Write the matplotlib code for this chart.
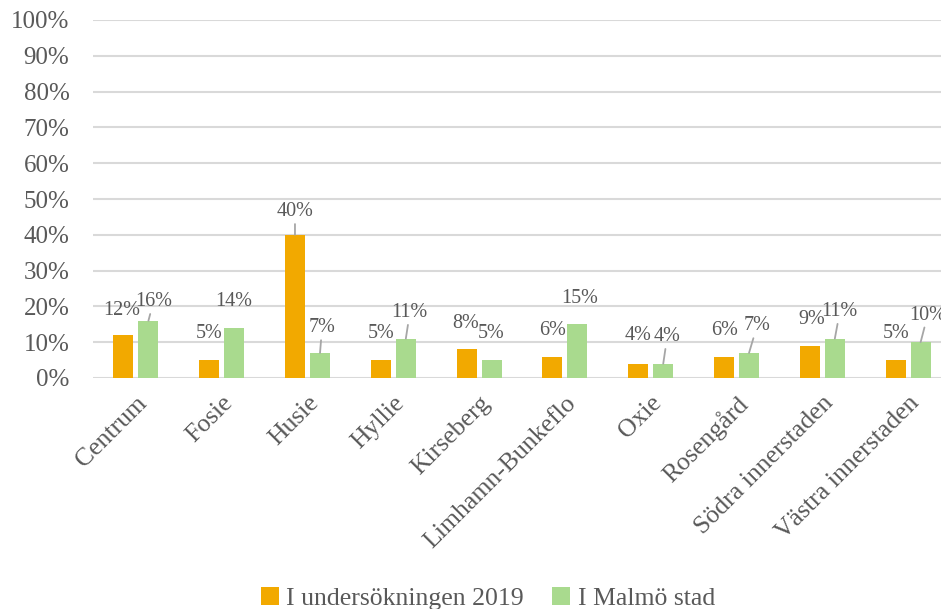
import matplotlib.pyplot as plt
import numpy as np

plt.rcParams['font.family'] = ['Liberation Serif', 'DejaVu Serif']

categories = ['Centrum', 'Fosie', 'Husie', 'Hyllie', 'Kirseberg', 'Limhamn-Bunkeflo',
              'Oxie', 'Rosengård', 'Södra innerstaden', 'Västra innerstaden']
survey = [12, 5, 40, 5, 8, 6, 4, 6, 9, 5]     # I undersökningen 2019
malmo = [16, 14, 7, 11, 5, 15, 4, 7, 11, 10]  # I Malmö stad

# label placement (pixel offsets from bar top) and leader lines
survey_off = [(-2, 25), (0, 27), (0, 23), (0, 27), (-1, 26), (0, 26), (0, 28), (1, 26), (2, 26), (1, 27)]
survey_lead = [False, False, True, False, False, False, False, False, False, False]
malmo_off = [(5, 19), (-1, 26), (2, 25), (4, 26), (-1, 27), (2, 26), (4, 27), (8, 27), (5, 27), (7, 27)]
malmo_lead = [True, False, True, True, False, False, True, True, True, True]

orange = '#F2A900'
green = '#A9DA8E'
textc = '#595959'

fig = plt.figure(figsize=(9.41, 6.09), dpi=100)
ax = fig.add_axes([93/941, 231/609, 858/941, 358/609])

x = np.arange(len(categories))
w = 0.233
sh = 0.146
ax.bar(x - sh, np.array(survey) / 100, w, color=orange, label='I undersökningen 2019', zorder=3)
ax.bar(x + sh, np.array(malmo) / 100, w, color=green, label='I Malmö stad', zorder=3)


def label(xs, vals, offs, leads):
    for xi, v, (dx, dy), ld in zip(xs, vals, offs, leads):
        kw = {}
        if ld:
            kw['arrowprops'] = dict(arrowstyle='-', color='#A6A6A6', lw=1.3, shrinkA=0, shrinkB=0)
        ax.annotate(f'{v}%', xy=(xi, v / 100), xytext=(dx, dy), textcoords='offset pixels',
                    ha='center', va='center', fontsize=14.5, color=textc, zorder=4, **kw)


label(x - sh, survey, survey_off, survey_lead)
label(x + sh, malmo, malmo_off, malmo_lead)

ax.set_xlim(-0.5, 9.5)
ax.set_ylim(0, 1)
ax.set_yticks(np.arange(0, 1.01, 0.1))
ax.set_yticklabels([f'{int(round(t * 100))}%' for t in np.arange(0, 1.01, 0.1)])
ax.yaxis.grid(True, color='#D9D9D9', lw=1.5, zorder=0)
ax.set_axisbelow(True)
for s in ax.spines.values():
    s.set_visible(False)
ax.tick_params(axis='y', length=0, pad=17, labelsize=18, labelcolor=textc)
ax.set_xticks(x)
ax.set_xticklabels(categories, rotation=45, ha='right', va='top', rotation_mode='anchor')
ax.tick_params(axis='x', length=0, pad=10, labelsize=18.5, labelcolor=textc)

fig.legend(loc='lower center', bbox_to_anchor=(488/941, -0.04), ncol=2, frameon=False,
           fontsize=18.5, labelcolor=textc, handlelength=0.7, handleheight=0.7,
           handletextpad=0.3, columnspacing=1.1)

fig.savefig('out.png', dpi=100)
